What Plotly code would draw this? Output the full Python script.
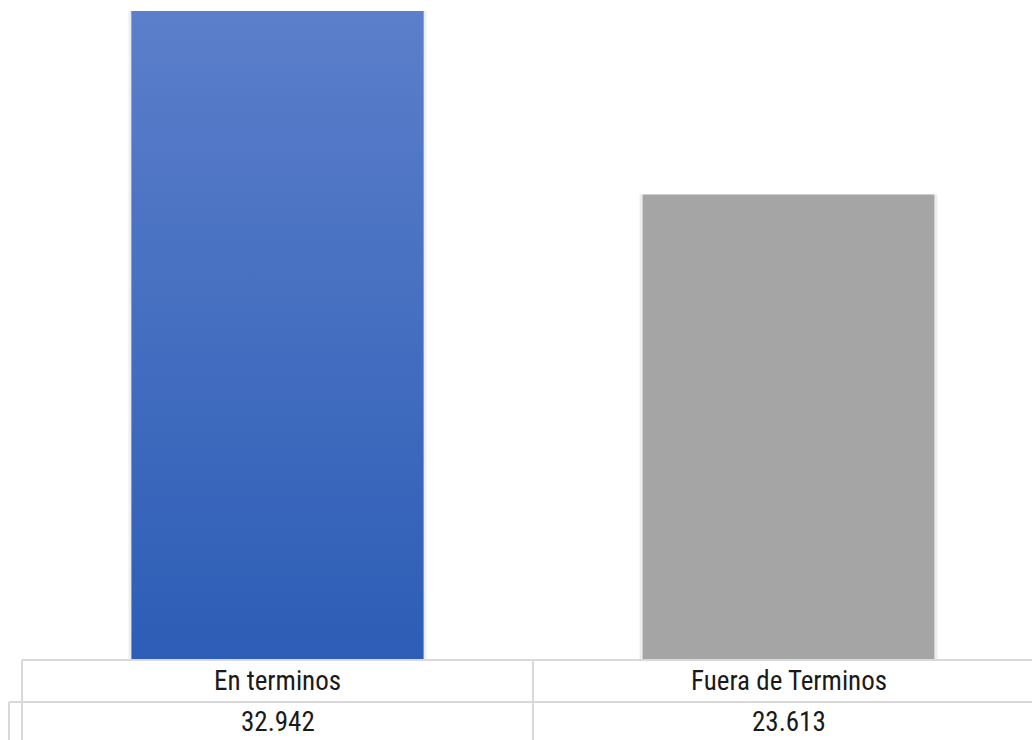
import plotly.graph_objects as go

# Casos según cumplimiento de términos
categorias = ["En terminos", "Fuera de Terminos"]
valores = [32942, 23613]
etiquetas = ["32.942", "23.613"]
colores = ["#3f6cc4", "#a5a5a5"]

ancho_barra = 0.571
x_pos = list(range(len(categorias)))

fig = go.Figure()

# sombra suave de las barras
fig.add_trace(go.Bar(
    x=x_pos, y=valores, width=ancho_barra + 0.012,
    marker=dict(color="rgba(0,0,0,0.07)", line=dict(width=0)),
    hoverinfo="skip", showlegend=False,
))
fig.add_trace(go.Bar(
    x=x_pos, y=valores, width=ancho_barra,
    marker=dict(color=colores, line=dict(width=0)),
    showlegend=False,
))

# degradado vertical de la primera barra
x0 = x_pos[0] - ancho_barra / 2
x1 = x_pos[0] + ancho_barra / 2
fig.add_trace(go.Scatter(
    x=[x0, x1, x1, x0, x0],
    y=[0, 0, valores[0], valores[0], 0],
    mode="lines", line=dict(width=0),
    fill="toself",
    fillgradient=dict(
        type="vertical",
        colorscale=[[0, "#2d5db6"], [1, "#5b7fca"]],
    ),
    hoverinfo="skip", showlegend=False,
))

W, H = 1032, 740
ml, mb = 22, 81
PW, PH = W - ml, H - mb          # área de trazado en píxeles
paso = PW / 2 + 6                # ancho de cada columna en píxeles
x_max = -0.5 + PW / paso
y_max = valores[0] * PH / (PH - 11)

fig.update_layout(
    width=W, height=H,
    margin=dict(l=ml, r=0, t=0, b=mb),
    paper_bgcolor="white", plot_bgcolor="white",
    barmode="overlay",
    xaxis=dict(range=[-0.5, x_max], visible=False, fixedrange=True),
    yaxis=dict(range=[0, y_max], visible=False, fixedrange=True),
)

# tabla de datos bajo el eje (posiciones en píxeles de la figura)
gris = "#d9d9d9"
py = lambda y_px: (PH - y_px) / PH
px = lambda x_px: (x_px - ml) / PW
lineas = [
    (22, 660, W, 660),
    (9, 702, W, 702),
    (22, 660, 22, H),
    (9, 702, 9, H),
    (533, 660, 533, H),
]
for (a, b, c, d) in lineas:
    fig.add_shape(type="line", xref="paper", yref="paper",
                  x0=px(a), y0=py(b), x1=px(c), y1=py(d),
                  line=dict(color=gris, width=2))

fuente = dict(family="Liberation Sans Narrow, Arial Narrow, Roboto Condensed, Arial",
              size=27, color="#1a1a1a")
for i, (cat, et) in enumerate(zip(categorias, etiquetas)):
    fig.add_annotation(x=x_pos[i], y=py(681), xref="x", yref="paper",
                       text=cat, showarrow=False, font=fuente,
                       xanchor="center", yanchor="middle")
    fig.add_annotation(x=x_pos[i], y=py(722), xref="x", yref="paper",
                       text=et, showarrow=False, font=fuente,
                       xanchor="center", yanchor="middle")

fig.write_html("out.html", config={"displayModeBar": False})
